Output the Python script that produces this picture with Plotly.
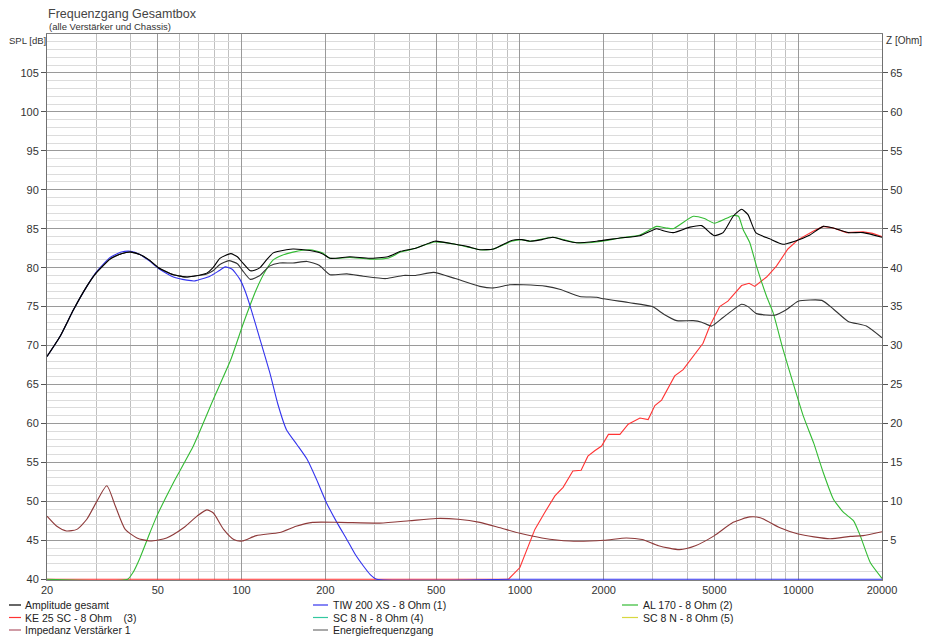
import plotly.graph_objects as go

# ---------------- data ----------------
amp_f = [20, 22.3, 24.9, 27.8, 30, 33.7, 37, 40, 43.1, 46.5, 50.3, 56.9, 63.6, 67.1, 75, 79, 83.6,
         91.5, 96.6, 101, 107.5, 112, 116.5, 123, 130, 145, 153, 176, 195, 208, 245, 288, 335, 373,
         422, 495, 586, 650, 718, 804, 934, 1016, 1087, 1200, 1314, 1450, 1598, 1886, 2288, 2700,
         3100, 3300, 3556, 4080, 4500, 4813, 5000, 5372, 5840, 6260, 6600, 7040, 7900, 8820, 9720,
         11020, 12300, 13370, 15120, 17100, 20000]
amp_db = [68.6, 71.2, 74.6, 77.6, 79.3, 81.1, 81.8, 82.0, 81.7, 81.0, 80.0, 79.1, 78.8, 78.9, 79.3,
          80.0, 81.2, 81.8, 81.4, 80.6, 79.6, 79.7, 80.0, 81.0, 81.9, 82.3, 82.4, 82.2, 81.8, 81.2,
          81.4, 81.2, 81.4, 82.1, 82.5, 83.4, 83.0, 82.7, 82.3, 82.4, 83.5, 83.6, 83.4, 83.6, 83.9,
          83.5, 83.2, 83.4, 83.8, 84.1, 85.0, 84.7, 84.5, 85.2, 85.4, 84.5, 84.1, 84.5, 86.6, 87.5,
          86.8, 84.5, 83.7, 83.0, 83.4, 84.2, 85.3, 85.1, 84.5, 84.5, 83.9]

energy_f = [20, 22.3, 24.9, 27.8, 30, 33.7, 37, 40, 43.1, 46.5, 50.3, 56.9, 63.6, 67.1, 75, 79, 83.6,
            90, 96.6, 101, 107.5, 116.5, 126, 137, 153, 172, 190, 208, 239, 274, 330, 381, 422, 490,
            586, 718, 804, 920, 1030, 1247, 1400, 1640, 1886, 2000, 2480, 2990, 3300, 3660, 4190,
            4500, 4880, 5370, 6260, 6600, 7080, 8240, 9060, 10000, 12160, 13370, 15120, 17570, 20000]
energy_db = [68.6, 71.2, 74.6, 77.6, 79.3, 81.1, 81.8, 82.0, 81.7, 81.0, 80.0, 79.1, 78.8, 78.9, 79.2,
             79.6, 80.4, 80.9, 80.5, 79.6, 78.5, 79.0, 80.2, 80.6, 80.6, 80.8, 80.3, 79.1, 79.2, 78.9,
             78.6, 79.0, 79.0, 79.4, 78.6, 77.6, 77.4, 77.8, 77.8, 77.6, 77.2, 76.3, 76.2, 76.0, 75.5,
             75.0, 74.0, 73.2, 73.2, 73.0, 72.5, 73.6, 75.3, 75.0, 74.1, 73.9, 74.6, 75.7, 75.8, 74.7,
             73.1, 72.5, 71.0]

tiw_f = [20, 22.3, 24.9, 27.8, 30, 33.7, 37, 40, 43.1, 46.5, 50.3, 56.9, 63.6, 68, 77, 83, 87.4, 92.5,
         98.7, 103, 107.5, 116.5, 126.4, 135, 145, 158, 172, 186, 202, 220, 239, 256, 274, 290, 306,
         1000, 20000]
tiw_db = [68.6, 71.2, 74.6, 77.6, 79.4, 81.3, 82.0, 82.1, 81.7, 80.9, 79.9, 78.8, 78.4, 78.3, 78.9,
          79.6, 80.1, 79.8, 78.5, 77.0, 75.0, 70.8, 66.5, 62.5, 59.2, 57.3, 55.4, 52.8, 49.8, 47.3,
          45.1, 43.2, 41.7, 40.6, 40.0, 40.0, 40.0]

al_f = [20, 39, 40.8, 43, 46.9, 49.6, 56.9, 67.1, 79.2, 91.5, 101.6, 113, 122, 130, 140, 153, 176, 195,
        208, 245, 288, 335, 373, 422, 495, 586, 718, 804, 934, 1016, 1087, 1314, 1598, 1886, 2288,
        2700, 3100, 3350, 3556, 4200, 4600, 5000, 5500, 5840, 6100, 6340, 6700, 7080, 7700, 8130,
        8820, 9580, 10440, 11360, 12300, 13370, 14520, 15810, 16700, 18170, 20000]
al_db = [40.0, 40.0, 40.9, 42.6, 46.0, 48.1, 52.4, 57.1, 63.1, 68.2, 72.9, 77.2, 79.6, 81.0, 81.6,
         82.0, 82.3, 81.9, 81.2, 81.3, 81.1, 81.2, 82.0, 82.5, 83.3, 83.0, 82.3, 82.4, 83.4, 83.6,
         83.4, 83.9, 83.2, 83.3, 83.8, 84.2, 85.3, 85.1, 85.0, 86.6, 86.3, 85.7, 86.3, 86.7, 86.6,
         84.9, 83.2, 80.2, 76.3, 74.2, 69.5, 65.2, 60.9, 57.5, 53.7, 50.3, 48.6, 47.5, 45.6, 42.1,
         40.1]

ke_f = [20, 910, 1000, 1057, 1132, 1230, 1336, 1430, 1550, 1660, 1755, 1857, 1966, 2080, 2288, 2450,
        2700, 2890, 3055, 3230, 3600, 3860, 4370, 4550, 4813, 5220, 5590, 6260, 6660, 6980, 7700,
        8350, 9180, 10000, 11360, 12300, 13370, 14920, 17100, 18500, 20000]
ke_db = [40.0, 40.0, 41.5, 43.8, 46.4, 48.6, 50.7, 51.8, 53.9, 54.0, 55.8, 56.5, 57.1, 58.6, 58.6,
         59.9, 60.7, 60.5, 62.3, 63.0, 66.1, 66.9, 69.5, 70.3, 72.5, 75.0, 75.7, 77.7, 78.0, 77.6,
         78.8, 80.2, 82.4, 83.6, 84.7, 85.3, 85.1, 84.5, 84.6, 84.4, 84.0]

imp_f = [20, 21.7, 23.5, 25.6, 27.8, 30, 32.8, 35.2, 38.2, 42.1, 46.9, 53.8, 61.9, 69.2, 75, 79.2,
         86.2, 93.8, 100.5, 113, 137, 157, 180, 225, 314, 400, 500, 600, 718, 850, 1000, 1200, 1510,
         2000, 2410, 2750, 3150, 3750, 4270, 5000, 5840, 6700, 7300, 8600, 10000, 13000, 15400,
         17100, 20000]
imp_ohm = [8.1, 6.8, 6.2, 6.4, 7.7, 9.8, 12.0, 9.4, 6.4, 5.3, 4.9, 5.3, 6.6, 8.1, 8.9, 8.5, 6.4, 5.1,
           4.9, 5.6, 6.0, 6.8, 7.3, 7.3, 7.2, 7.5, 7.8, 7.7, 7.3, 6.6, 5.9, 5.3, 4.9, 5.0, 5.3, 5.1,
           4.3, 3.8, 4.3, 5.6, 7.3, 8.0, 7.9, 6.6, 5.8, 5.2, 5.5, 5.6, 6.1]

x_tickvals = [20, 50, 100, 200, 500, 1000, 2000, 5000, 10000, 20000]
x_ticktext = ["20", "50", "100", "200", "500", "1000", "2000", "5000", "10000", "20000"]
spl_ticks = [40, 45, 50, 55, 60, 65, 70, 75, 80, 85, 90, 95, 100, 105]
z_ticks = [5, 10, 15, 20, 25, 30, 35, 40, 45, 50, 55, 60, 65]

legend_names = [
    ["Amplitude gesamt", "KE 25 SC - 8 Ohm    (3)", "Impedanz Verstärker 1"],
    ["TIW 200 XS - 8 Ohm (1)", "SC 8 N - 8 Ohm (4)", "Energiefrequenzgang"],
    ["AL 170 - 8 Ohm (2)", "SC 8 N - 8 Ohm (5)"],
]
legend_colors = [
    ["#000000", "#ff3333", "#b05a6a"],
    ["#3333ee", "#33c8a0", "#707070"],
    ["#33bb33", "#d8d840"],
]

# ---------------- figure ----------------
FONT = "Liberation Sans, Arial, sans-serif"
OFF = 8                      # page body margin of the html page
PAGE_W, PAGE_H = 930, 637
W, H = PAGE_W - OFF, PAGE_H - OFF
PL, PR, PT, PB = 47, 882, 34, 580   # plot area in page pixels
L, T = PL - OFF, PT - OFF
PW, PH = PR - PL, PB - PT
R, B = W - L - PW, H - T - PH


def px_x(x):
    return (x - PL) / PW


def px_y(y):
    return (PB - y) / PH


fig = go.Figure()

fig.add_trace(go.Scatter(x=ke_f, y=ke_db, mode="lines", name="KE 25 SC - 8 Ohm    (3)",
                         line=dict(color="#ff3333", width=1.1), showlegend=False))
fig.add_trace(go.Scatter(x=imp_f, y=imp_ohm, mode="lines", name="Impedanz Verstärker 1", yaxis="y2",
                         line=dict(color="#8e3a3a", width=1.1, shape="spline", smoothing=0.6),
                         showlegend=False))
fig.add_trace(go.Scatter(x=al_f, y=al_db, mode="lines", name="AL 170 - 8 Ohm (2)",
                         line=dict(color="#33bb33", width=1.1, shape="spline", smoothing=0.5),
                         showlegend=False))
fig.add_trace(go.Scatter(x=tiw_f, y=tiw_db, mode="lines", name="TIW 200 XS - 8 Ohm (1)",
                         line=dict(color="#3333ee", width=1.1, shape="spline", smoothing=0.5),
                         showlegend=False))
fig.add_trace(go.Scatter(x=energy_f, y=energy_db, mode="lines", name="Energiefrequenzgang",
                         line=dict(color="#333333", width=1.1, shape="spline", smoothing=0.5),
                         showlegend=False))
fig.add_trace(go.Scatter(x=amp_f, y=amp_db, mode="lines", name="Amplitude gesamt",
                         line=dict(color="#000000", width=1.1, shape="spline", smoothing=0.5),
                         showlegend=False))

x_minor = [m * d for d in (10, 100, 1000, 10000) for m in range(1, 10) if 20 <= m * d <= 20000]

fig.update_layout(
    width=W, height=H,
    margin=dict(l=L, r=R, t=T, b=B, pad=0),
    paper_bgcolor="white", plot_bgcolor="white",
    font=dict(family=FONT, size=11, color="#333333"),
    showlegend=False,
    xaxis=dict(
        type="log", range=[1.30103, 4.30103],
        tickmode="array", tickvals=x_tickvals, ticktext=x_ticktext,
        ticks="", showgrid=True, gridcolor="#9a9a9a", gridwidth=1,
        minor=dict(tickmode="array", tickvals=x_minor, showgrid=True, gridcolor="#c0c0c0", gridwidth=1, ticks=""),
        showline=True, mirror=True, linecolor="#808080", linewidth=1,
        tickfont=dict(size=11, color="#333333"), zeroline=False,
    ),
    yaxis=dict(
        range=[39.9, 110], tickmode="array", tickvals=spl_ticks,
        ticks="outside", ticklen=5, tickcolor="#555555",
        showgrid=True, gridcolor="#9a9a9a", gridwidth=1,
        minor=dict(tickmode="array", tickvals=list(range(40, 111)), showgrid=True,
                   gridcolor="#dcdcdc", gridwidth=1, ticks=""),
        showline=True, mirror=True, linecolor="#707070", linewidth=1,
        tickfont=dict(size=11, color="#333333"), zeroline=False,
    ),
    yaxis2=dict(
        overlaying="y", side="right", range=[-0.1, 70],
        tickmode="array", tickvals=z_ticks,
        ticks="outside", ticklen=5, tickcolor="#555555",
        showgrid=False, showline=True, linecolor="#707070", linewidth=1,
        tickfont=dict(size=11, color="#333333"), zeroline=False,
    ),
)

annotations = [
    dict(text="Frequenzgang Gesamtbox", x=px_x(46), y=px_y(14.5), xanchor="left", yanchor="middle",
         font=dict(size=12.5, color="#444444")),
    dict(text="(alle Verstärker und Chassis)", x=px_x(47), y=px_y(26.5), xanchor="left", yanchor="middle",
         font=dict(size=9.5, color="#333333")),
    dict(text="SPL [dB]", x=px_x(47.5), y=px_y(41), xanchor="right", yanchor="middle",
         font=dict(size=9.5, color="#333333")),
    dict(text="Z [Ohm]", x=px_x(884), y=px_y(41), xanchor="left", yanchor="middle",
         font=dict(size=10, color="#333333")),
]

shapes = []
col_line_x = [(9, 21, 23), (313, 328, 331), (622, 638, 641)]
row_y = [605, 617.5, 630]
for ci, (names, cols) in enumerate(zip(legend_names, legend_colors)):
    lx0, lx1, tx = col_line_x[ci]
    for ri, (nm, c) in enumerate(zip(names, cols)):
        yy = px_y(row_y[ri])
        shapes.append(dict(type="line", xref="paper", yref="paper", x0=px_x(lx0), x1=px_x(lx1),
                           y0=yy, y1=yy, line=dict(color=c, width=1.2)))
        annotations.append(dict(text=nm, x=px_x(tx), y=yy, xanchor="left", yanchor="middle",
                                font=dict(size=10.5, color="#222222")))

for a in annotations:
    a.update(xref="paper", yref="paper", showarrow=False)

fig.update_layout(annotations=annotations, shapes=shapes)

fig.write_html("out.html")
